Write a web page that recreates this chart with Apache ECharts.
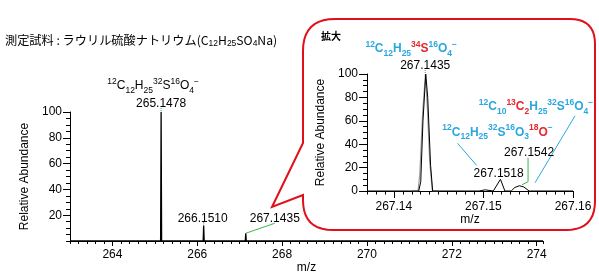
<!DOCTYPE html>
<html><head><meta charset="utf-8">
<script src="https://cdn.jsdelivr.net/npm/echarts@6/dist/echarts.min.js"></script>
<style>html,body{margin:0;padding:0;background:#fff}#c{width:599px;height:275px}</style>
</head><body><div id="c"></div>
<script>
// ---------- data ----------
// main spectrum (centroid peaks)
const mainPeakMz = [264.2400, 265.0300, 265.1478, 265.3000, 266.1510, 266.4500, 267.1435, 268.1600, 269.3000, 271.2400, 273.1800];
const mainPeakAb = [0.3, 0.5, 100, 0.5, 12, 0.4, 6, 0.4, 1.5, 0.6, 0.8];
const mainXTicks = [264, 266, 268, 270, 272, 274];
const mainLabelMz = [265.1478, 266.1510, 267.1435];
const mainLabelAb = [100, 12, 6];
const mainLabelText = ['265.1478', '266.1510', '267.1435'];

// zoomed (profile) spectrum
const insetMz = [267.1370, 267.1420, 267.14278, 267.1430, 267.14325, 267.14356, 267.14378, 267.1441, 267.14433, 267.1480,
                 267.1495, 267.1496, 267.1502, 267.1504, 267.1511, 267.1519, 267.1524, 267.1531, 267.1535, 267.1540, 267.1545, 267.1551, 267.1600];
const insetAb = [0, 0, 0, 8, 60, 100, 80, 22, 0, 0,
                 0, 1, 1, 0, 0, 10, 0, 0, 3, 4.5, 3.5, 0, 0];
const insetMzGray = [267.1420, 267.14270, 267.14290, 267.14320, 267.14352, 267.14375, 267.14400, 267.14430, 267.1450];
const insetAbGray = [0, 0, 15, 65, 100, 70, 25, 0, 0];
const insetXTicks = [267.14, 267.15, 267.16];
const insetLabelMz = [267.1435, 267.1518, 267.1542];
const insetLabelAb = [100, 10, 4.5];
const insetLabelText = ['267.1435', '267.1518', '267.1542'];

// ---------- styles ----------
const FONT = '"Liberation Sans", Arial, sans-serif';
const CJK = '"Noto Sans CJK JP", sans-serif';
const BLUE = '#2aa7df', RED = '#e8262d', GREEN = '#3db54a', BORDER = '#e00f1a';

function profile(mz, ab, d) {
  const pts = [[263, 0]];
  mz.forEach((m, i) => { pts.push([m - d, 0], [m, ab[i]], [m + d, 0]); });
  pts.push([274.15, 0]);
  return pts;
}

const chart = echarts.init(document.getElementById('c'));
const minorX = (grid, min, max, step, len) => ({
  gridIndex: grid, type: 'value', min, max, interval: step, position: 'bottom',
  axisLine: { show: false, onZero: false }, axisLabel: { show: false }, splitLine: { show: false },
  axisTick: { show: true, length: len, lineStyle: { color: '#000' } } });
const minorY = (grid, len) => ({
  gridIndex: grid, type: 'value', min: 0, max: 100, interval: 5, position: 'left',
  axisLine: { show: false }, axisLabel: { show: false }, splitLine: { show: false },
  axisTick: { show: true, length: len, lineStyle: { color: '#000' } } });

chart.setOption({
  animation: false,
  textStyle: { fontFamily: FONT },
  grid: [
    { left: 70, right: 56, top: 112, bottom: 31 },
    { left: 367, right: 26, top: 74, bottom: 84 }
  ],
  xAxis: [
    { gridIndex: 0, type: 'value', min: 263, max: 274.15, position: 'bottom',
      axisLine: { show: true, onZero: false, lineStyle: { color: '#000' } },
      axisTick: { show: true, length: 5, customValues: mainXTicks, lineStyle: { color: '#000' } },
      axisLabel: { customValues: mainXTicks, color: '#000', fontSize: 12, margin: 8, formatter: v => String(Math.round(v)) },
      splitLine: { show: false },
      name: 'm/z', nameLocation: 'middle', nameGap: 21, nameTextStyle: { color: '#000', fontSize: 12 } },
    minorX(0, 263, 274.15, 0.2, 3),
    { gridIndex: 1, type: 'value', min: 267.137, max: 267.16, position: 'bottom',
      axisLine: { show: true, onZero: false, lineStyle: { color: '#000' } },
      axisTick: { show: true, length: 7, customValues: insetXTicks, lineStyle: { color: '#000' } },
      axisLabel: { customValues: insetXTicks, color: '#000', fontSize: 12, margin: 10, formatter: v => v.toFixed(2) },
      splitLine: { show: false },
      name: 'm/z', nameLocation: 'middle', nameGap: 21, nameTextStyle: { color: '#000', fontSize: 12 } },
    minorX(1, 267.137, 267.16, 0.001, 3.5)
  ],
  yAxis: [
    { gridIndex: 0, type: 'value', min: 0, max: 100, interval: 20, position: 'left',
      axisLine: { show: true, lineStyle: { color: '#000' } },
      axisTick: { show: true, length: 7, lineStyle: { color: '#000' } },
      axisLabel: { color: '#000', fontSize: 12, margin: 8, showMinLabel: false },
      splitLine: { show: false },
      name: 'Relative Abundance', nameLocation: 'middle', nameGap: 37, nameTextStyle: { color: '#000', fontSize: 12 } },
    { gridIndex: 1, type: 'value', min: 0, max: 100, interval: 20, position: 'left',
      axisLine: { show: true, lineStyle: { color: '#000' } },
      axisTick: { show: true, length: 8, lineStyle: { color: '#000' } },
      axisLabel: { color: '#000', fontSize: 12, margin: 9 },
      splitLine: { show: false },
      name: 'Relative Abundance', nameLocation: 'middle', nameGap: 40, nameTextStyle: { color: '#000', fontSize: 12 } },
    minorY(0, 4),
    minorY(1, 4)
  ],
  series: [
    { type: 'line', xAxisIndex: 0, yAxisIndex: 0, data: profile(mainPeakMz, mainPeakAb, 0.012),
      symbol: 'none', lineStyle: { color: '#000', width: 1.3 }, z: 3 },
    { type: 'line', xAxisIndex: 2, yAxisIndex: 1, data: insetMzGray.map((m, i) => [m, insetAbGray[i]]),
      symbol: 'none', lineStyle: { color: '#9a9a9a', width: 1.2 }, z: 3 },
    { type: 'line', xAxisIndex: 2, yAxisIndex: 1, data: insetMz.map((m, i) => [m, insetAb[i]]),
      symbol: 'none', lineStyle: { color: '#000', width: 1 }, z: 4 }
  ]
});

// ---------- annotations ----------
const supH = 11, mainLH = 18;
function mk(fill, weight) {
  return {
    n: { fill, fontSize: 12, fontWeight: weight, fontFamily: FONT, lineHeight: mainLH },
    sup: { fill, fontSize: 8.5, fontWeight: weight, fontFamily: FONT, lineHeight: supH, verticalAlign: 'top' },
    sub: { fill, fontSize: 8.5, fontWeight: weight, fontFamily: FONT, lineHeight: supH, verticalAlign: 'bottom' }
  };
}
const K = mk('#000', 'normal'), B = mk(BLUE, 'bold'), R = mk(RED, 'bold');
const richAll = {
  nK: K.n, supK: K.sup, subK: K.sub,
  nB: B.n, supB: B.sup, subB: B.sub,
  nR: R.n, supR: R.sup, subR: R.sub
};
const rt = toks => toks.map(([s, t]) => '{' + s + '|' + t + '}').join('');

const F_main = [['supK','12'],['nK','C'],['subK','12'],['nK','H'],['subK','25'],['supK','32'],['nK','S'],['supK','16'],['nK','O'],['subK','4'],['supK','−']];
const F_34 = [['supB','12'],['nB','C'],['subB','12'],['nB','H'],['subB','25'],['supR','34'],['nR','S'],['supB','16'],['nB','O'],['subB','4'],['supB','−']];
const F_13 = [['supB','12'],['nB','C'],['subB','10'],['supR','13'],['nR','C'],['subR','2'],['nB','H'],['subB','25'],['supB','32'],['nB','S'],['supB','16'],['nB','O'],['subB','4'],['supB','−']];
const F_18 = [['supB','12'],['nB','C'],['subB','12'],['nB','H'],['subB','25'],['supB','32'],['nB','S'],['supB','16'],['nB','O'],['subB','3'],['supR','18'],['nR','O'],['supB','−']];

function txt(x, y, text, extra) {
  return { type: 'text', x, y, z: 10,
    style: Object.assign({ text, fill: '#000', fontSize: 12, fontFamily: FONT, align: 'center', verticalAlign: 'middle' }, extra || {}) };
}
function formula(x, y, toks) {
  return { type: 'text', x, y, z: 10, style: { text: rt(toks), rich: richAll, align: 'center', verticalAlign: 'middle', fontFamily: FONT, fontSize: 12 } };
}
function pl(points, color, dash, w) {
  return { type: 'polyline', z: 9, shape: { points }, style: { stroke: color, lineWidth: w || 1, lineDash: dash || null, fill: null } };
}
const off = (p, dx, dy) => [p[0] + dx, p[1] + dy];

// callout outline: straight segments + sampled quadratic corners
function calloutPoints() {
  const segs = [
    ['M', 335, 19], ['L', 570, 19], ['Q', 595, 19, 595, 44], ['L', 595, 201], ['Q', 595, 230, 566, 230],
    ['L', 333, 230], ['Q', 303, 230, 303, 200], ['L', 303, 195], ['L', 272, 207], ['L', 303, 143],
    ['L', 303, 51], ['Q', 303, 19, 335, 19]
  ];
  const pts = []; let cur = null;
  segs.forEach(s => {
    if (s[0] === 'M' || s[0] === 'L') { cur = [s[1], s[2]]; pts.push(cur); }
    else {
      const [_, cx, cy, x, y] = s; const p0 = cur;
      for (let t = 0.1; t <= 1.0001; t += 0.1) {
        const u = 1 - t;
        pts.push([u * u * p0[0] + 2 * u * t * cx + t * t * x, u * u * p0[1] + 2 * u * t * cy + t * t * y]);
      }
      cur = [x, y];
    }
  });
  return pts;
}

const mp = mainLabelMz.map((m, i) => chart.convertToPixel({ xAxisIndex: 0, yAxisIndex: 0 }, [m, mainLabelAb[i]]));
const ip = insetLabelMz.map((m, i) => chart.convertToPixel({ xAxisIndex: 2, yAxisIndex: 1 }, [m, insetLabelAb[i]]));

const els = [];
// title
els.push({ type: 'text', x: 5, y: 40, z: 10, style: {
  text: rt([['t','測定試料 : ラウリル硫酸ナトリウム(C'],['ts','12'],['t','H'],['ts','25'],['t','SO'],['ts','4'],['t','Na)']]),
  rich: { t: { fill: '#000', fontSize: 12.2, fontFamily: CJK, lineHeight: 16 },
          ts: { fill: '#000', fontSize: 8.5, fontFamily: FONT, lineHeight: 10, verticalAlign: 'bottom' } },
  align: 'left', verticalAlign: 'middle' } });
// callout frame
els.push({ type: 'polygon', z: 1, shape: { points: calloutPoints() }, style: { fill: null, stroke: BORDER, lineWidth: 2 } });
els.push(txt(331, 36, '拡大', { fontFamily: CJK, fontSize: 10, fontWeight: 'bold' }));

// main labels
els.push(formula(mp[0][0] - 8, mp[0][1] - 26, F_main));
els.push(txt(mp[0][0], mp[0][1] - 8, mainLabelText[0]));
els.push(pl([off(mp[0], 0, -4), mp[0]], GREEN, [1, 1]));
els.push(txt(mp[1][0] - 1, mp[1][1] - 7, mainLabelText[1]));
els.push(pl([off(mp[1], 0, -4), mp[1]], GREEN, [2, 1]));
els.push(txt(mp[2][0] + 29, mp[2][1] - 15, mainLabelText[2]));
els.push(pl([mp[2], off(mp[2], 29, -10)], GREEN));

// inset labels
els.push(formula(ip[0][0] - 14, ip[0][1] - 25, F_34));
els.push(txt(ip[0][0], ip[0][1] - 8, insetLabelText[0]));
els.push(pl([off(ip[0], 0, -4), ip[0]], GREEN, [1, 1]));

els.push(txt(ip[1][0] - 1, ip[1][1] - 6, insetLabelText[1]));
els.push(formula(ip[1][0] - 2, ip[1][1] - 47, F_18));
els.push(pl([off(ip[1], -42, -36), off(ip[1], -23, -14)], BLUE));

els.push(txt(ip[2][0] + 8, ip[2][1] - 33, insetLabelText[2]));
els.push(pl([off(ip[2], 7, -28), off(ip[2], 7, -4), off(ip[2], 1, -1)], GREEN));
els.push(formula(ip[2][0] + 15, ip[2][1] - 79, F_13));
els.push(pl([off(ip[2], 54, -70), off(ip[2], 14, -3)], BLUE));

chart.setOption({ graphic: { elements: els } });
</script>
</body></html>
